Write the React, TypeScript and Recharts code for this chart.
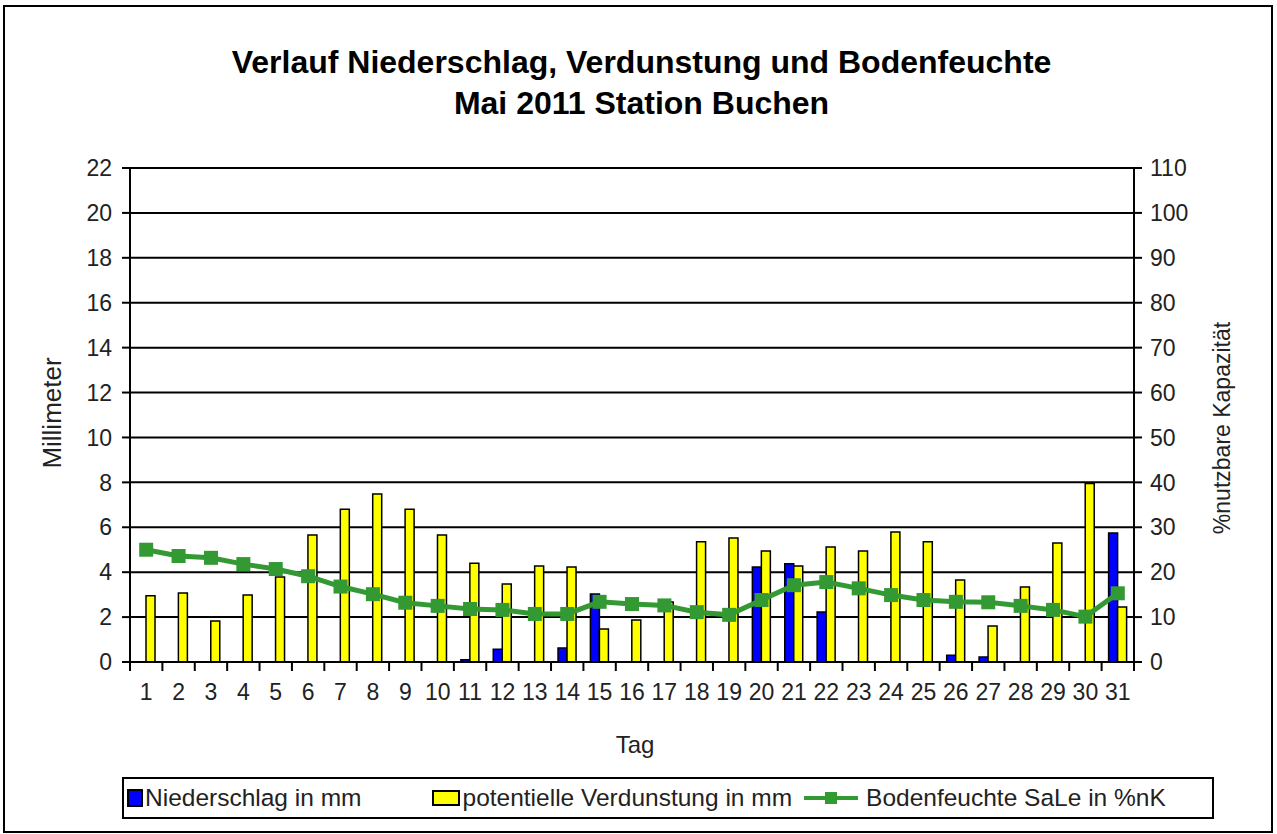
import React from 'react';
import { ComposedChart, Bar, Line, XAxis, YAxis, CartesianGrid } from 'recharts';

const days = ['1','2','3','4','5','6','7','8','9','10','11','12','13','14','15','16','17','18','19','20','21','22','23','24','25','26','27','28','29','30','31'];
const niederschlag = [0,0,0,0,0,0,0,0,0,0,0.1,0.57,0,0.62,3.03,0,0,0,0,4.23,4.37,2.23,0,0,0,0.3,0.22,0,0,0,5.75];
const verdunstung = [2.95,3.07,1.83,2.98,3.79,5.66,6.8,7.48,6.8,5.66,4.4,3.47,4.28,4.23,1.47,1.87,2.67,5.35,5.52,4.94,4.28,5.12,4.94,5.79,5.35,3.65,1.6,3.34,5.3,7.95,2.45];
const bodenfeuchte = [25,23.6,23.2,21.8,20.7,19.1,16.8,15.1,13.2,12.5,11.8,11.6,10.7,10.7,13.4,12.9,12.6,11.1,10.5,13.8,17.1,17.8,16.4,14.9,13.8,13.4,13.3,12.5,11.6,10.1,15.3];
const leftTicks = [0,2,4,6,8,10,12,14,16,18,20,22];
const rightTicks = [0,10,20,30,40,50,60,70,80,90,100,110];

const title1 = 'Verlauf Niederschlag, Verdunstung und Bodenfeuchte';
const title2 = 'Mai 2011 Station Buchen';
const seriesNames = ['Niederschlag in mm', 'potentielle Verdunstung in mm', 'Bodenfeuchte SaLe in %nK'];

const data = days.map((d, i) => ({
  tag: d,
  n: niederschlag[i],
  v: verdunstung[i],
  b: bodenfeuchte[i],
}));

const FONT = '"Liberation Sans", Arial, sans-serif';
const GREEN = '#339933';
const TXT = '#222';

const XTick = (props: any) => {
  const { x, y, payload, index } = props;
  const off = payload && payload.offset ? payload.offset : 0;
  return (
    <g>
      <line x1={x - off} x2={x - off} y1={y} y2={y + 9} stroke="#000" strokeWidth={2} />
      {index === days.length - 1 && (
        <line x1={x + off} x2={x + off} y1={y} y2={y + 9} stroke="#000" strokeWidth={2} />
      )}
      <text x={x} y={y + 38} textAnchor="middle" fontSize={23} fill={TXT} fontFamily={FONT}>
        {payload.value}
      </text>
    </g>
  );
};

const SquareDot = (props: any) => {
  const { cx, cy, index } = props;
  if (cx == null || cy == null) return <g key={index} />;
  return <rect key={index} x={cx - 7} y={cy - 7} width={14} height={14} fill={GREEN} />;
};

export default function App() {
  return (
    <div style={{ position: 'absolute', left: 0, top: 0, width: 1277, height: 834, background: '#fff', fontFamily: FONT }}>
      <div style={{ position: 'absolute', left: 3, top: 5, width: 1266, height: 824, border: '2px solid #000', boxSizing: 'content-box' }} />
      <div style={{ position: 'absolute', left: 0, top: 42, width: 1283, textAlign: 'center', fontWeight: 'bold', fontSize: 32, lineHeight: '41px', color: '#000' }}>
        <div>{title1}</div>
        <div>{title2}</div>
      </div>
      <div style={{ position: 'absolute', left: 0, top: 0 }}>
        <ComposedChart
          width={1277}
          height={834}
          data={data}
          margin={{ top: 168, right: 0, bottom: 112, left: 0 }}
          barGap={0}
          barSize={9}
        >
          <CartesianGrid yAxisId="left" vertical={false} stroke="#000" strokeWidth={2} horizontalValues={leftTicks} />
          <XAxis
            dataKey="tag"
            height={60}
            axisLine={{ stroke: '#000', strokeWidth: 2 }}
            tickLine={false}
            tickSize={0}
            tickMargin={0}
            interval={0}
            tick={<XTick />}
          />
          <YAxis
            yAxisId="left"
            width={130}
            domain={[0, 22]}
            ticks={leftTicks}
            interval={0}
            axisLine={{ stroke: '#000', strokeWidth: 2 }}
            tickLine={{ stroke: '#000', strokeWidth: 2 }}
            tickSize={8}
            tickMargin={10}
            tick={{ fontSize: 23, fill: TXT, fontFamily: FONT }}
          />
          <YAxis
            yAxisId="right"
            orientation="right"
            width={143}
            domain={[0, 110]}
            ticks={rightTicks}
            interval={0}
            axisLine={{ stroke: '#000', strokeWidth: 2 }}
            tickLine={{ stroke: '#000', strokeWidth: 2 }}
            tickSize={8}
            tickMargin={8}
            tick={{ fontSize: 23, fill: TXT, fontFamily: FONT, textAnchor: 'start' }}
          />
          <Bar yAxisId="left" dataKey="n" name={seriesNames[0]} fill="#0000FF" stroke="#000" strokeWidth={1.5} isAnimationActive={false} />
          <Bar yAxisId="left" dataKey="v" name={seriesNames[1]} fill="#FFFF00" stroke="#000" strokeWidth={1.5} isAnimationActive={false} />
          <Line yAxisId="right" dataKey="b" name={seriesNames[2]} stroke={GREEN} strokeWidth={5} dot={<SquareDot />} activeDot={false} isAnimationActive={false} />
        </ComposedChart>
      </div>
      <div style={{ position: 'absolute', left: 52, top: 413, transform: 'translate(-50%, -50%) rotate(-90deg)', fontSize: 26, color: TXT, whiteSpace: 'nowrap' }}>Millimeter</div>
      <div style={{ position: 'absolute', left: 1222, top: 428, transform: 'translate(-50%, -50%) rotate(-90deg)', fontSize: 23, color: TXT, whiteSpace: 'nowrap' }}>%nutzbare Kapazität</div>
      <div style={{ position: 'absolute', left: 635, top: 745, transform: 'translate(-50%, -50%)', fontSize: 24, color: TXT, whiteSpace: 'nowrap' }}>Tag</div>
      <div style={{ position: 'absolute', left: 122, top: 777, width: 1088, height: 38, border: '2px solid #000', display: 'flex', alignItems: 'center', fontSize: 24.5, color: TXT, whiteSpace: 'nowrap', boxSizing: 'content-box' }}>
        <span style={{ display: 'inline-block', width: 12, height: 14, background: '#0000FF', border: '2px solid #000', marginLeft: 3, marginRight: 2 }} />
        <span>{seriesNames[0]}</span>
        <span style={{ display: 'inline-block', width: 24, height: 12, background: '#FFFF00', border: '2px solid #000', marginLeft: 70, marginRight: 3 }} />
        <span>{seriesNames[1]}</span>
        <svg width={54} height={16} style={{ marginLeft: 12, marginRight: 8 }}>
          <line x1={0} x2={54} y1={8} y2={8} stroke={GREEN} strokeWidth={4} />
          <rect x={21} y={2} width={12} height={12} fill={GREEN} />
        </svg>
        <span>{seriesNames[2]}</span>
      </div>
    </div>
  );
}
